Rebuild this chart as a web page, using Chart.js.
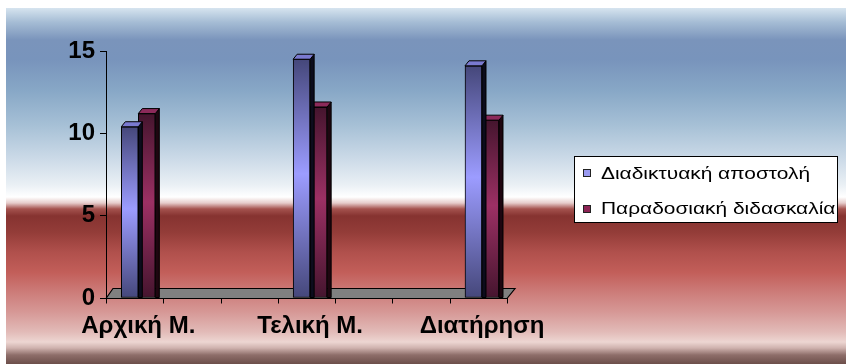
<!DOCTYPE html>
<html>
<head>
<meta charset="utf-8">
<script src="https://cdn.jsdelivr.net/npm/chart.js@4.4.0/dist/chart.umd.min.js"></script>
<style>
  html, body { margin: 0; padding: 0; background: #fff; }
  #wrap { width: 846px; height: 364px; }
</style>
</head>
<body>
<div id="wrap"><canvas id="c" width="846" height="364"></canvas></div>
<script>
// Chart data
const categories = ['Αρχική Μ.', 'Τελική Μ.', 'Διατήρηση'];
const seriesNames = ['Διαδικτυακή αποστολή', 'Παραδοσιακή διδασκαλία'];
const onlineValues = [10.4, 14.5, 14.1];
const traditionalValues = [11.2, 11.6, 10.8];
const yTicks = [0, 5, 10, 15];

const FONT = "'Liberation Sans', Arial, sans-serif";

// Per-series palette: edge/centre shades of the front face, top face, side face, legend swatch
const palettes = [
  { edge: '#45477a', mid: '#9c9cff', top: '#7a7ad0', side: '#0c0c1c', swatch: '#9a9af0' },
  { edge: '#45152e', mid: '#9c3064', top: '#8c2a5a', side: '#1e0610', swatch: '#8c2454' }
];

// Vertical dark-light-dark shading for each bar's front face
function barFill(p) {
  return (ctx) => {
    const chart = ctx.chart;
    const y = chart.scales && chart.scales.y;
    if (!y || ctx.type !== 'data' || !ctx.raw) return p.mid;
    const top = y.getPixelForValue(ctx.raw.y);
    const base = y.getPixelForValue(0);
    if (!isFinite(top) || !isFinite(base) || top === base) return p.mid;
    const g = chart.ctx.createLinearGradient(0, top, 0, base);
    g.addColorStop(0, p.edge);
    g.addColorStop(0.48, p.mid);
    g.addColorStop(1, p.edge);
    return g;
  };
}

// Banded background: blue sky fading to white, then red fading to pale pink
const backdrop = {
  id: 'backdrop',
  beforeDraw(chart) {
    const { ctx, width, height } = chart;
    const y0 = 8, x0 = 6;
    ctx.save();
    ctx.fillStyle = '#ffffff';
    ctx.fillRect(0, 0, width, height);
    const g = ctx.createLinearGradient(0, y0, 0, height);
    const stops = [
      [8, '#d6e4ef'], [22, '#a6bdd5'], [40, '#7a94bb'], [60, '#7894bc'],
      [90, '#87a7c6'], [125, '#a6c0d6'], [160, '#cddbe8'], [185, '#eaf0f5'],
      [197, '#ffffff'], [203, '#e6cccb'], [209, '#a4524e'], [216, '#863330'],
      [232, '#933c38'], [252, '#b0504c'], [272, '#c25e59'], [292, '#cc7c79'],
      [312, '#d69896'], [332, '#e2bbb8'], [342, '#edd6d2'], [348, '#cfb2ae'],
      [355, '#8e6e6a'], [364, '#6c4e4a']
    ];
    stops.forEach(([y, c]) => g.addColorStop((y - y0) / (height - y0), c));
    ctx.fillStyle = g;
    ctx.fillRect(x0, y0, width - x0, height - y0);
    ctx.restore();
  }
};

// Grey floor under the bars plus the minor tick marks of the category axis
const floor = {
  id: 'floor',
  beforeDatasetsDraw(chart) {
    const { ctx, chartArea: a } = chart;
    const b = Math.round(a.bottom) + 0.5;
    ctx.save();
    ctx.beginPath();
    ctx.moveTo(a.left, b);
    ctx.lineTo(a.left + 7, b - 10);
    ctx.lineTo(a.right + 8, b - 10);
    ctx.lineTo(a.right, b);
    ctx.closePath();
    ctx.fillStyle = '#808080';
    ctx.fill();
    ctx.lineWidth = 1.2;
    ctx.strokeStyle = '#000';
    ctx.stroke();
    ctx.beginPath();
    for (let k = 0; k <= 7; k++) {
      const x = Math.round(a.left + k * (a.right - a.left) / 7) + 0.5;
      ctx.moveTo(x, b);
      ctx.lineTo(x, b + 5);
    }
    ctx.lineWidth = 1;
    ctx.stroke();
    ctx.restore();
  }
};

// Top and side faces that give each bar its depth
const depth = {
  id: 'depth',
  afterDatasetDraw(chart, args) {
    const { ctx } = chart;
    const p = palettes[args.index];
    const dx = 4, dy = 5;
    ctx.save();
    ctx.lineWidth = 1;
    ctx.strokeStyle = '#000';
    args.meta.data.forEach((bar) => {
      const { x, y, base, width } = bar.getProps(['x', 'y', 'base', 'width'], true);
      const l = x - width / 2, r = x + width / 2;
      // side face
      ctx.beginPath();
      ctx.moveTo(r, y);
      ctx.lineTo(r + dx, y - dy);
      ctx.lineTo(r + dx, base);
      ctx.lineTo(r, base);
      ctx.closePath();
      ctx.fillStyle = p.side;
      ctx.fill();
      ctx.stroke();
      // top face
      ctx.beginPath();
      ctx.moveTo(l, y);
      ctx.lineTo(r, y);
      ctx.lineTo(r + dx, y - dy);
      ctx.lineTo(l + dx, y - dy);
      ctx.closePath();
      ctx.fillStyle = p.top;
      ctx.fill();
      ctx.stroke();
    });
    ctx.restore();
  }
};

// Boxed legend to the right of the plot (text drawn slightly widened)
const boxLegend = {
  id: 'boxLegend',
  afterDraw(chart) {
    const { ctx } = chart;
    const bx = 574.5, by = 156.5, bw = 263, bh = 66;
    ctx.save();
    ctx.fillStyle = '#ffffff';
    ctx.fillRect(bx, by, bw, bh);
    ctx.strokeStyle = '#000';
    ctx.lineWidth = 1;
    ctx.strokeRect(bx, by, bw, bh);
    ctx.font = '17px ' + FONT;
    ctx.textBaseline = 'middle';
    chart.data.datasets.forEach((ds, i) => {
      const cy = 173 + i * 35.5;
      ctx.fillStyle = palettes[i].swatch;
      ctx.fillRect(583, Math.round(cy - 4), 8, 8);
      ctx.strokeStyle = '#222';
      ctx.strokeRect(583.5, Math.round(cy - 4) + 0.5, 7, 7);
      ctx.save();
      ctx.translate(601, cy + 1);
      ctx.scale(1.23, 1);
      ctx.fillStyle = '#000';
      ctx.fillText(ds.label, 0, 0);
      ctx.restore();
    });
    ctx.restore();
  }
};

const toPoints = (vals) => vals.map((v, i) => ({ x: i, y: v }));

new Chart(document.getElementById('c'), {
  type: 'bar',
  data: {
    datasets: [
      {
        label: seriesNames[0],
        data: toPoints(onlineValues),
        backgroundColor: barFill(palettes[0]),
        borderColor: '#000',
        borderWidth: 1,
        borderSkipped: false,
        barThickness: 17
      },
      {
        label: seriesNames[1],
        data: toPoints(traditionalValues),
        backgroundColor: barFill(palettes[1]),
        borderColor: '#000',
        borderWidth: 1,
        borderSkipped: false,
        barThickness: 17
      }
    ]
  },
  options: {
    responsive: false,
    animation: false,
    devicePixelRatio: 1,
    layout: { padding: { top: 51, right: 339, bottom: 0, left: 0 } },
    plugins: { legend: { display: false }, tooltip: { enabled: false } },
    scales: {
      x: {
        type: 'linear',
        offset: false,
        min: -0.188,
        max: 2.1455,
        afterBuildTicks: (s) => { s.ticks = categories.map((c, i) => ({ value: i })); },
        afterFit: (s) => { s.height = 66; },
        grid: { display: false, drawTicks: false, offset: false },
        border: { display: true, color: '#000', width: 1 },
        ticks: {
          autoSkip: false,
          maxRotation: 0,
          padding: 14,
          color: '#000',
          font: { family: FONT, size: 24, weight: 'bold' },
          callback: (v, i) => categories[i]
        }
      },
      y: {
        min: 0,
        max: 15,
        afterBuildTicks: (s) => { s.ticks = yTicks.map((v) => ({ value: v })); },
        afterFit: (s) => { s.width = 106; },
        grid: { display: true, drawOnChartArea: false, drawTicks: true, tickLength: 6, color: '#000' },
        border: { display: true, color: '#000', width: 1 },
        ticks: {
          padding: 5,
          color: '#000',
          font: { family: FONT, size: 24, weight: 'bold' }
        }
      }
    }
  },
  plugins: [backdrop, floor, depth, boxLegend]
});
</script>
</body>
</html>
